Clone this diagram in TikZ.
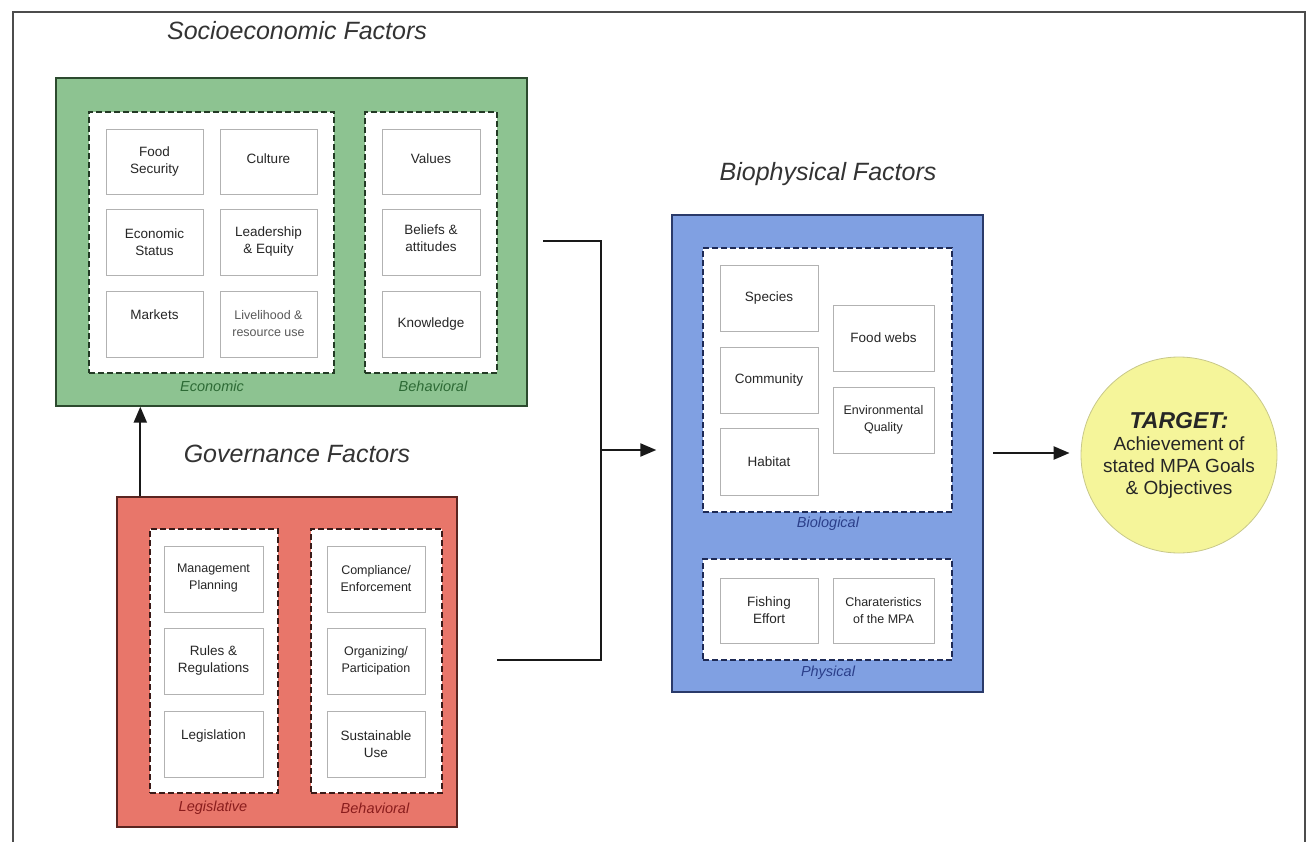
\documentclass[tikz,border=0pt]{standalone}
\usepackage{fontspec}
\setmainfont{Liberation Sans}
\usetikzlibrary{arrows.meta}
\definecolor{grfill}{HTML}{8DC391}
\definecolor{grline}{HTML}{2C4A2E}
\definecolor{grdash}{HTML}{233A25}
\definecolor{grtext}{HTML}{2D6A35}
\definecolor{rdfill}{HTML}{E8766A}
\definecolor{rdline}{HTML}{5A2520}
\definecolor{rddash}{HTML}{3A1A18}
\definecolor{rdtext}{HTML}{8A1D1D}
\definecolor{blfill}{HTML}{80A0E2}
\definecolor{blline}{HTML}{2A3A6A}
\definecolor{bldash}{HTML}{1E2A55}
\definecolor{bltext}{HTML}{2B3F8A}
\definecolor{tgfill}{HTML}{F5F59A}
\definecolor{tgline}{HTML}{C8C88A}
\begin{document}
\begin{tikzpicture}[x=1pt,y=-1pt,
  corners/.style args={#1:#2:#3:#4}{at={({(#1+#3)/2},{(#2+#4)/2})},
    minimum width={(#3)-(#1)}, minimum height={(#4)-(#2)}},
  panel/.style={draw=#1, line width=1.4pt, inner sep=0pt},
  dashbox/.style={draw=#1, fill=white, dash pattern=on 6pt off 3pt, line width=2.2pt, inner sep=0pt},
  inbox/.style={draw=black!30, fill=white, line width=0.8pt, inner sep=0pt, align=center,
    font=\fontsize{13.5}{17}\selectfont, text=black!85},
  smallbox/.style={inbox, font=\fontsize{12.5}{17}\selectfont},
  ttl/.style={font=\fontsize{25}{30}\selectfont\itshape, text=black!80},
  sublbl/.style={font=\fontsize{14.5}{17}\selectfont\itshape, text=#1},
  conn/.style={line width=2.2pt, draw=black!90},
  arr/.style={conn, -{Triangle[length=16pt,width=13pt]}}
]
\path[use as bounding box] (0,0) rectangle (1309,842);
\draw[line width=1.6pt, draw=black!70] (13,12) rectangle (1305,880);

% ---------- Socioeconomic ----------
\node[ttl] (socttl) at (297,31) {Socioeconomic Factors};
\node[panel=grline, fill=grfill, corners=56:78:527:406] (socio) {};
\node[dashbox=grdash, corners=89:112:334:373] (econ) {};
\node[dashbox=grdash, corners=365:112:497:373] (sbeh) {};
\node[inbox, corners=106:129:203:194] (food) {Food\\Security};
\node[inbox, corners=220:129:317:194] (cult) {\raisebox{6pt}{Culture}};
\node[inbox, corners=106:209:203:275] (ecst) {Economic\\Status};
\node[inbox, corners=220:209:317:275] (lead) {Leadership\\\& Equity};
\node[inbox, corners=106:291:203:357] (mark) {\raisebox{18pt}{Markets}};
\node[smallbox, text=black!65, corners=220:291:317:357] (live) {Livelihood \&\\resource use};
\node[inbox, corners=382:129:480:194] (vals) {\raisebox{6pt}{Values}};
\node[inbox, corners=382:209:480:275] (beli) {\raisebox{18pt}{\begin{tabular}{@{}c@{}}Beliefs \&\\attitudes\end{tabular}}};
\node[inbox, corners=382:291:480:357] (know) {Knowledge};
\node[sublbl=grtext] (econlbl) at (212,386) {Economic};
\node[sublbl=grtext] (sbehlbl) at (433,386) {Behavioral};

% ---------- Governance ----------
\node[ttl] (govttl) at (297,454) {Governance Factors};
\node[panel=rdline, fill=rdfill, corners=117:497:457:827] (gov) {};
\node[dashbox=rddash, corners=150:529:278:793] (legis) {};
\node[dashbox=rddash, corners=311:529:442:793] (gbeh) {};
\node[smallbox, corners=164:546:263:612] (mgmt) {\raisebox{16pt}{\begin{tabular}{@{}c@{}}Management\\Planning\end{tabular}}};
\node[inbox, corners=164:628:263:694] (rules) {Rules \&\\Regulations};
\node[inbox, corners=164:711:263:777] (legi) {\raisebox{18pt}{Legislation}};
\node[smallbox, corners=327:546:425:612] (comp) {Compliance/\\Enforcement};
\node[smallbox, corners=327:628:425:694] (org) {Organizing/\\Participation};
\node[inbox, corners=327:711:425:777] (sust) {Sustainable\\Use};
\node[sublbl=rdtext] (legislbl) at (213,808) {Legislative};
\node[sublbl=rdtext] (gbehlbl) at (375,808) {Behavioral};

% ---------- Biophysical ----------
\node[ttl] (biottl) at (828,174) {Biophysical Factors};
\node[panel=blline, fill=blfill, corners=672:215:983:692] (bio) {};
\node[dashbox=bldash, corners=703:248:952:512] (biol) {};
\node[dashbox=bldash, corners=703:559:952:660] (phys) {};
\node[inbox, corners=720:265:818:331] (spec) {Species};
\node[inbox, corners=720:347:818:413] (comm) {Community};
\node[inbox, corners=720:428:818:495] (habi) {Habitat};
\node[inbox, corners=833:305:934:371] (fweb) {Food webs};
\node[smallbox, corners=833:387:934:453] (envq) {Environmental\\Quality};
\node[inbox, corners=720:578:818:643] (fish) {Fishing\\Effort};
\node[smallbox, corners=833:578:934:643] (char) {Charateristics\\of the MPA};
\node[sublbl=bltext] (biollbl) at (828,524) {Biological};
\node[sublbl=bltext] (physlbl) at (828,673) {Physical};

% ---------- Target ----------
\node[circle, fill=tgfill, draw=tgline, line width=0.8pt, minimum size=196pt, inner sep=0pt,
  align=center, text=black!85, font=\fontsize{19}{22}\selectfont] (target) at (1179,455)
  {{\fontsize{23}{25}\selectfont\bfseries\itshape TARGET:}\\Achievement of\\stated MPA Goals\\\& Objectives};

% ---------- Connectors ----------
\coordinate (s1) at (543,241);
\coordinate (g1) at (497,660);
\coordinate (j) at (601,450);
\draw[conn] (s1) -| (j) |- (g1);
\draw[arr, shorten >=15pt] (j) -- (bio.west |- j);
\draw[arr] ([xshift=24pt]gov.north west) -- ([xshift=24pt]gov.north west |- socio.south);
\coordinate (b1) at (993,453);
\draw[arr, shorten >=11pt] (b1) -- (b1 -| target.west);
\end{tikzpicture}
\end{document}
